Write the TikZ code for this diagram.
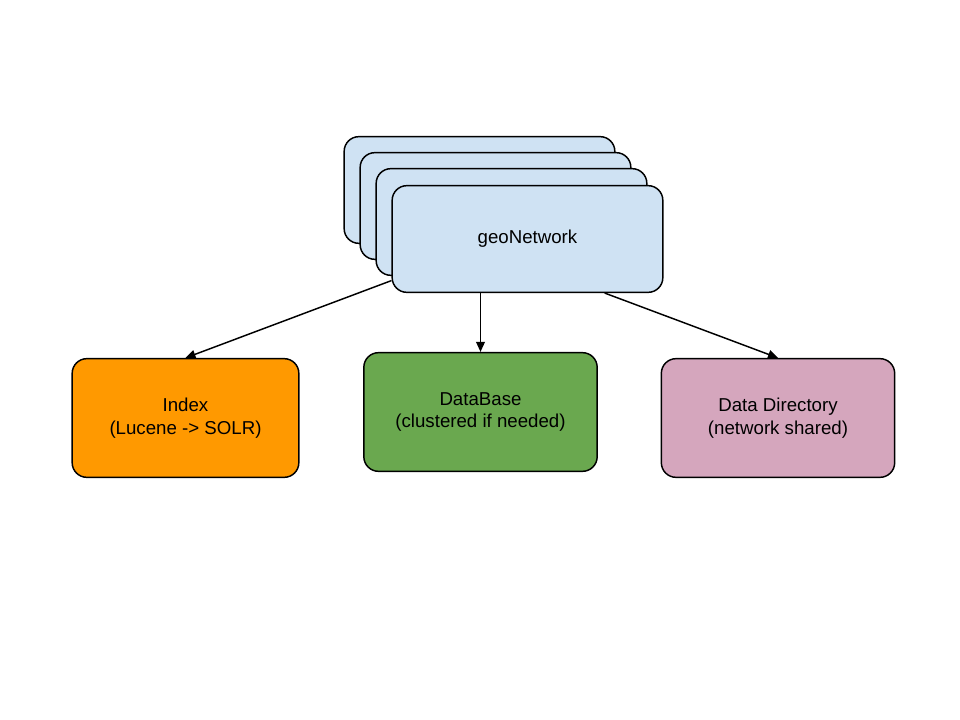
\documentclass[tikz,border=0pt]{standalone}
\usepackage{fontspec}
\setmainfont{Liberation Sans}
\usetikzlibrary{arrows.meta,positioning}
\definecolor{geoblue}{HTML}{CFE2F3}
\definecolor{idxorange}{HTML}{FF9900}
\definecolor{dbgreen}{HTML}{6AA84F}
\definecolor{dirpink}{HTML}{D5A6BD}
\tikzset{
  part/.style={rectangle, rounded corners=11pt, draw=black, line width=1.1pt,
               align=center, font=\fontsize{14}{17}\selectfont, inner sep=0pt},
  arrow/.style={-{Triangle[length=7.5pt, width=6.5pt]}, line width=1.1pt},
}
\begin{document}
\begin{tikzpicture}[x=0.75pt, y=-0.75pt,
        stack/.style={part, fill=geoblue, minimum width=203pt, minimum height=80pt},
        store/.style={part, minimum width=170pt, minimum height=89pt}
    ]
    \useasboundingbox (0,0) rectangle (960,720);

    % geoNetwork instances (stacked)
    \node[stack] (geo4) at (479.5,190) {};
    \node[stack] (geo3) at (495.5,206) {};
    \node[stack] (geo2) at (511.5,222) {};
    \node[stack] (geo) at (527.5,239) {\raisebox{-2pt}{geoNetwork}};

    % Shared storage
    \node[store, fill=idxorange] (index) at (185.5,418) {Index\\(Lucene -> SOLR)};
    \node[store, fill=dbgreen, minimum width=175pt] (db) at (480.5,412) {DataBase\\(clustered if needed)};
    \node[store, fill=dirpink, minimum width=175pt] (datadir) at (778,418) {Data Directory\\(network shared)};

    % Connections
    \draw[arrow] (geo.197) -- (index.north);
    \draw[arrow] (db.north |- geo.south) -- (db.north);
    \draw[arrow] (geo.-35) -- (datadir.north);

\end{tikzpicture}
\end{document}
